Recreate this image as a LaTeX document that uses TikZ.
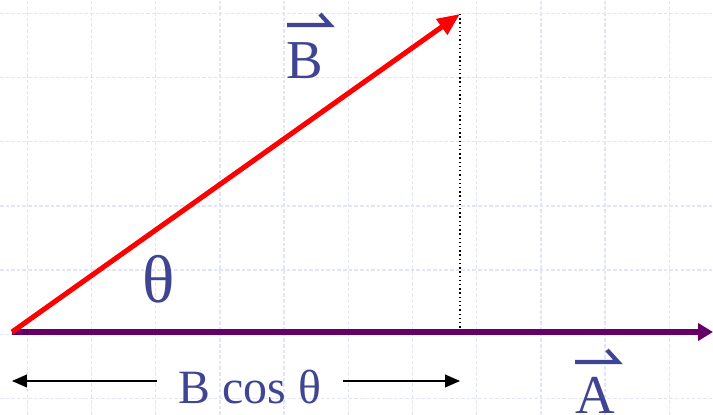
\documentclass[tikz,border=0pt]{standalone}
\usepackage{fontspec}
\setmainfont{Liberation Serif}
\usetikzlibrary{arrows.meta,calc}
\definecolor{gridblue}{HTML}{E2E5F8}
\definecolor{vecred}{HTML}{FF0000}
\definecolor{vecpurple}{HTML}{660066}
\definecolor{labelblue}{HTML}{3F4592}
\tikzset{
  gridline/.style={gridblue, line width=1pt, dash pattern=on 2.5pt off 1.5pt},
  veclabel/.style={text=labelblue, inner sep=0pt, anchor=base, font=\fontsize{39}{44}\selectfont},
  harpoonbar/.style={labelblue, line width=3pt, line join=miter},
  dimarrow/.style={-{Triangle[length=10.5pt,width=9pt]}, line width=1pt}
}

\begin{document}
\begin{tikzpicture}[x=0.025cm,y=0.025cm]
\useasboundingbox (0,0) rectangle (713,415);
% grid
\foreach \i in {0,...,10}
  \draw[gridline] (27.3+64.2*\i,0) -- (27.3+64.2*\i,415);
\foreach \j in {0,...,6}
  \draw[gridline] (0,16.5+64.2*\j) -- (713,16.5+64.2*\j);

\coordinate (origin) at (12,83);
\coordinate (tipB) at (460,401);
\coordinate (tipA) at (713,83);
\coordinate (foot) at (460,83);
\coordinate (dimL) at (12,34);
\coordinate (dimR) at (460,34);

% vectors
\draw[dotted, line width=1pt] (tipB) -- (foot);
\draw[vecpurple, line width=3.6pt, -{Triangle[length=10.5pt,width=12pt]}] (origin) -- (tipA);
\draw[vecred, line width=3.6pt, -{Triangle[length=16pt,width=13pt]}] (origin) -- (tipB);

% labels
\node[veclabel] (labB) at (305,336) {B};
\node[veclabel] (labA) at (595,1) {A};
\node[veclabel, font=\fontsize{48}{54}\selectfont] (theta) at (159,112) {θ};
\node[veclabel, inner xsep=15pt, font=\fontsize{34}{40}\selectfont] (bcos) at (250,11) {B cos θ};

\draw[harpoonbar] ($(labB.base)+(-18,54)$) -- ++(43,0) -- ++(-10,11);
\draw[harpoonbar] ($(labA.base)+(-20,52)$) -- ++(43,0) -- ++(-11,12);

% projection
\draw[dimarrow] (bcos.west |- dimL) -- (dimL);
\draw[dimarrow] (bcos.east |- dimR) -- (dimR);
\end{tikzpicture}
\end{document}
